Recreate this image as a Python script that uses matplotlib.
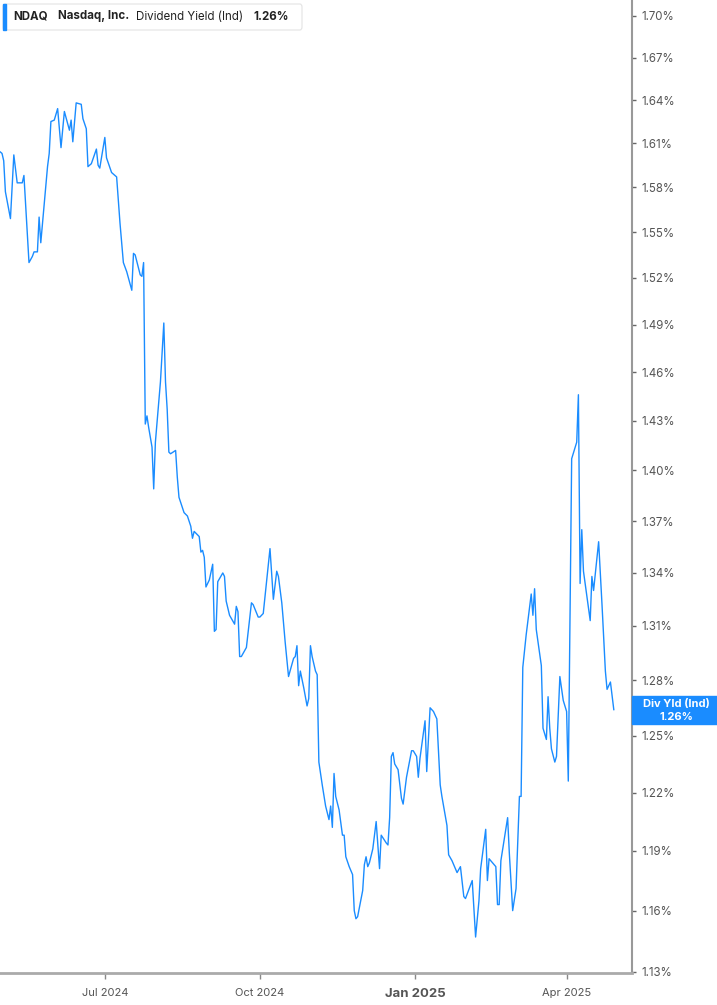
import matplotlib
matplotlib.use('Agg')
import matplotlib.pyplot as plt
import matplotlib.dates as mdates
import matplotlib.ticker as mticker
from matplotlib.patches import FancyBboxPatch, Rectangle
import pandas as pd

plt.rcParams['font.family'] = ['Inter', 'DejaVu Sans']

# NDAQ dividend yield (ind), %
start = pd.Timestamp('2024-04-30')
day_offsets = [0, 1, 2, 3, 6, 8, 10, 13, 14, 17, 19, 20, 22, 23, 24, 28, 29, 30, 32, 34,
               36, 38, 41, 42, 43, 45, 48, 49, 51, 52, 54, 57, 58, 59, 62, 63, 66, 68, 69, 71,
               73, 75, 77, 78, 79, 80, 83, 84, 85, 86, 87, 88, 90, 91, 92, 93, 95, 97, 98, 99,
               100, 101, 104, 105, 106, 109, 111, 113, 114, 115, 118, 119, 120, 121, 122, 124, 126, 127, 128, 129,
               132, 133, 134, 136, 139, 140, 141, 142, 143, 146, 149, 150, 153, 154, 156, 160, 162, 164, 165, 167,
               169, 171, 174, 175, 176, 177, 178, 180, 182, 183, 184, 185, 187, 188, 189, 191, 193, 195, 196, 197,
               198, 199, 201, 203, 204, 205, 207, 209, 210, 211, 212, 215, 216, 217, 218, 219, 221, 223, 225, 226,
               229, 230, 231, 232, 233, 234, 236, 238, 239, 241, 244, 245, 247, 248, 249, 252, 253, 255, 257, 259,
               261, 262, 265, 266, 268, 271, 273, 275, 276, 280, 282, 284, 285, 288, 289, 290, 294, 295, 296, 297,
               301, 302, 304, 306, 308, 309, 310, 312, 315, 316, 317, 318, 321, 322, 324, 325, 326, 327, 329, 330,
               332, 334, 336, 337, 339, 342, 343, 344, 345, 346, 350, 351, 352, 355, 357, 359, 360, 362, 364]
div_yield = [1.604, 1.603, 1.598, 1.577, 1.559, 1.602, 1.583, 1.583, 1.588, 1.530, 1.534, 1.537, 1.537, 1.560, 1.543, 1.594, 1.603, 1.625, 1.626, 1.634,
             1.607, 1.632, 1.619, 1.626, 1.611, 1.638, 1.637, 1.627, 1.620, 1.594, 1.596, 1.606, 1.595, 1.593, 1.614, 1.600, 1.590, 1.588, 1.587, 1.556,
             1.530, 1.524, 1.516, 1.512, 1.536, 1.535, 1.522, 1.521, 1.530, 1.428, 1.433, 1.426, 1.414, 1.389, 1.417, 1.429, 1.454, 1.491, 1.454, 1.437,
             1.411, 1.410, 1.412, 1.396, 1.384, 1.375, 1.373, 1.367, 1.360, 1.364, 1.361, 1.352, 1.353, 1.349, 1.332, 1.336, 1.345, 1.307, 1.308, 1.335,
             1.340, 1.338, 1.324, 1.316, 1.311, 1.321, 1.318, 1.293, 1.293, 1.298, 1.323, 1.322, 1.315, 1.315, 1.317, 1.354, 1.325, 1.341, 1.338, 1.323,
             1.301, 1.282, 1.292, 1.293, 1.299, 1.277, 1.285, 1.276, 1.266, 1.270, 1.299, 1.293, 1.285, 1.283, 1.236, 1.224, 1.213, 1.206, 1.213, 1.202,
             1.230, 1.218, 1.211, 1.198, 1.198, 1.187, 1.182, 1.178, 1.160, 1.156, 1.157, 1.170, 1.183, 1.187, 1.182, 1.184, 1.191, 1.205, 1.181, 1.198,
             1.194, 1.193, 1.207, 1.239, 1.241, 1.235, 1.232, 1.217, 1.214, 1.228, 1.242, 1.242, 1.239, 1.228, 1.238, 1.258, 1.231, 1.265, 1.263, 1.259,
             1.224, 1.218, 1.203, 1.188, 1.185, 1.179, 1.182, 1.167, 1.166, 1.175, 1.147, 1.165, 1.181, 1.201, 1.175, 1.186, 1.182, 1.163, 1.163, 1.185,
             1.207, 1.189, 1.160, 1.171, 1.218, 1.218, 1.287, 1.305, 1.328, 1.316, 1.331, 1.308, 1.288, 1.254, 1.248, 1.271, 1.254, 1.243, 1.236, 1.239,
             1.282, 1.269, 1.263, 1.226, 1.407, 1.417, 1.446, 1.334, 1.365, 1.341, 1.313, 1.338, 1.330, 1.358, 1.322, 1.285, 1.275, 1.279, 1.264]

y_ticks = [1.13, 1.16, 1.19, 1.22, 1.25, 1.28, 1.31, 1.34, 1.37, 1.40,
           1.43, 1.46, 1.49, 1.52, 1.55, 1.58, 1.61, 1.64, 1.67, 1.70]
x_tick_dates = ['2024-07-01', '2024-10-01', '2025-01-01', '2025-04-01']
x_tick_labels = ['Jul 2024', 'Oct 2024', 'Jan 2025', 'Apr 2025']

line_blue = '#1a8cff'
W, H = 717, 1005

dates = (start + pd.to_timedelta(day_offsets, unit='D')).to_pydatetime()

fig = plt.figure(figsize=(W / 100, H / 100), dpi=100)
ax = fig.add_axes([0, 32 / H, 632 / W, 973 / H])

ax.plot(dates, div_yield, color=line_blue, lw=1.0)

ax.set_yscale('log')
ax.set_ylim(1.1295, 1.7116)
ax.set_xlim(mdates.date2num(start) - 0.2, mdates.date2num(start) + 374.8)

ax.yaxis.set_major_locator(mticker.FixedLocator(y_ticks))
ax.yaxis.set_minor_locator(mticker.NullLocator())
ax.yaxis.set_major_formatter(mticker.FuncFormatter(lambda v, p: f'{v:.2f}%'))
ax.yaxis.tick_right()
ax.tick_params(axis='y', direction='out', length=3, width=1, color='#666',
               labelcolor='#555', labelsize=8.3, pad=4)

ax.set_xticks(mdates.date2num(pd.to_datetime(x_tick_dates).to_pydatetime()))
ax.set_xticklabels(x_tick_labels)
ax.tick_params(axis='x', direction='out', length=4, width=1, color='#888',
               labelcolor='#555', labelsize=8, pad=7)
for lbl in ax.get_xticklabels():
    if lbl.get_text() == 'Jan 2025':
        lbl.set_fontweight('bold')
        lbl.set_fontsize(9.5)

for s in ['top', 'left']:
    ax.spines[s].set_visible(False)
ax.spines['bottom'].set_color('#aaa')
ax.spines['bottom'].set_linewidth(2)
ax.spines['right'].set_color('#999')
ax.spines['right'].set_linewidth(1.5)

# header box
fig.patches.append(FancyBboxPatch((3 / W, 1 - 30 / H), 299 / W, 26 / H,
                                  boxstyle='round,pad=0,rounding_size=0.003',
                                  transform=fig.transFigure, fc='white', ec='#e3e3e3', lw=0.8))
fig.patches.append(Rectangle((3 / W, 1 - 30 / H), 3 / W, 26 / H,
                             transform=fig.transFigure, color=line_blue))
hy = 1 - 16.5 / H
fig.text(13 / W, hy, 'NDAQ', fontsize=8.3, fontweight='bold', color='#222', va='center')
fig.text(58 / W, hy, 'Nasdaq, Inc.', fontsize=8.3, fontweight='bold', color='#222', va='center')
fig.text(136 / W, hy, 'Dividend Yield (Ind)', fontsize=8.3, color='#222', va='center')
fig.text(253 / W, hy, f'{div_yield[-1]:.2f}%', fontsize=8.3, fontweight='bold', color='#222', va='center')

# last value tag on the right axis
fig.canvas.draw()
y_last = ax.transData.transform((mdates.date2num(dates[-1]), div_yield[-1]))[1] / H
fig.patches.append(Rectangle((632 / W, y_last - 14 / H), 85 / W, 28 / H,
                             transform=fig.transFigure, color=line_blue))
fig.text(676 / W, y_last + 6 / H, 'Div Yld (Ind)', fontsize=8, fontweight='bold',
         color='white', ha='center', va='center')
fig.text(676 / W, y_last - 7 / H, f'{div_yield[-1]:.2f}%', fontsize=8, fontweight='bold',
         color='white', ha='center', va='center')

fig.savefig('out.png', dpi=100)
